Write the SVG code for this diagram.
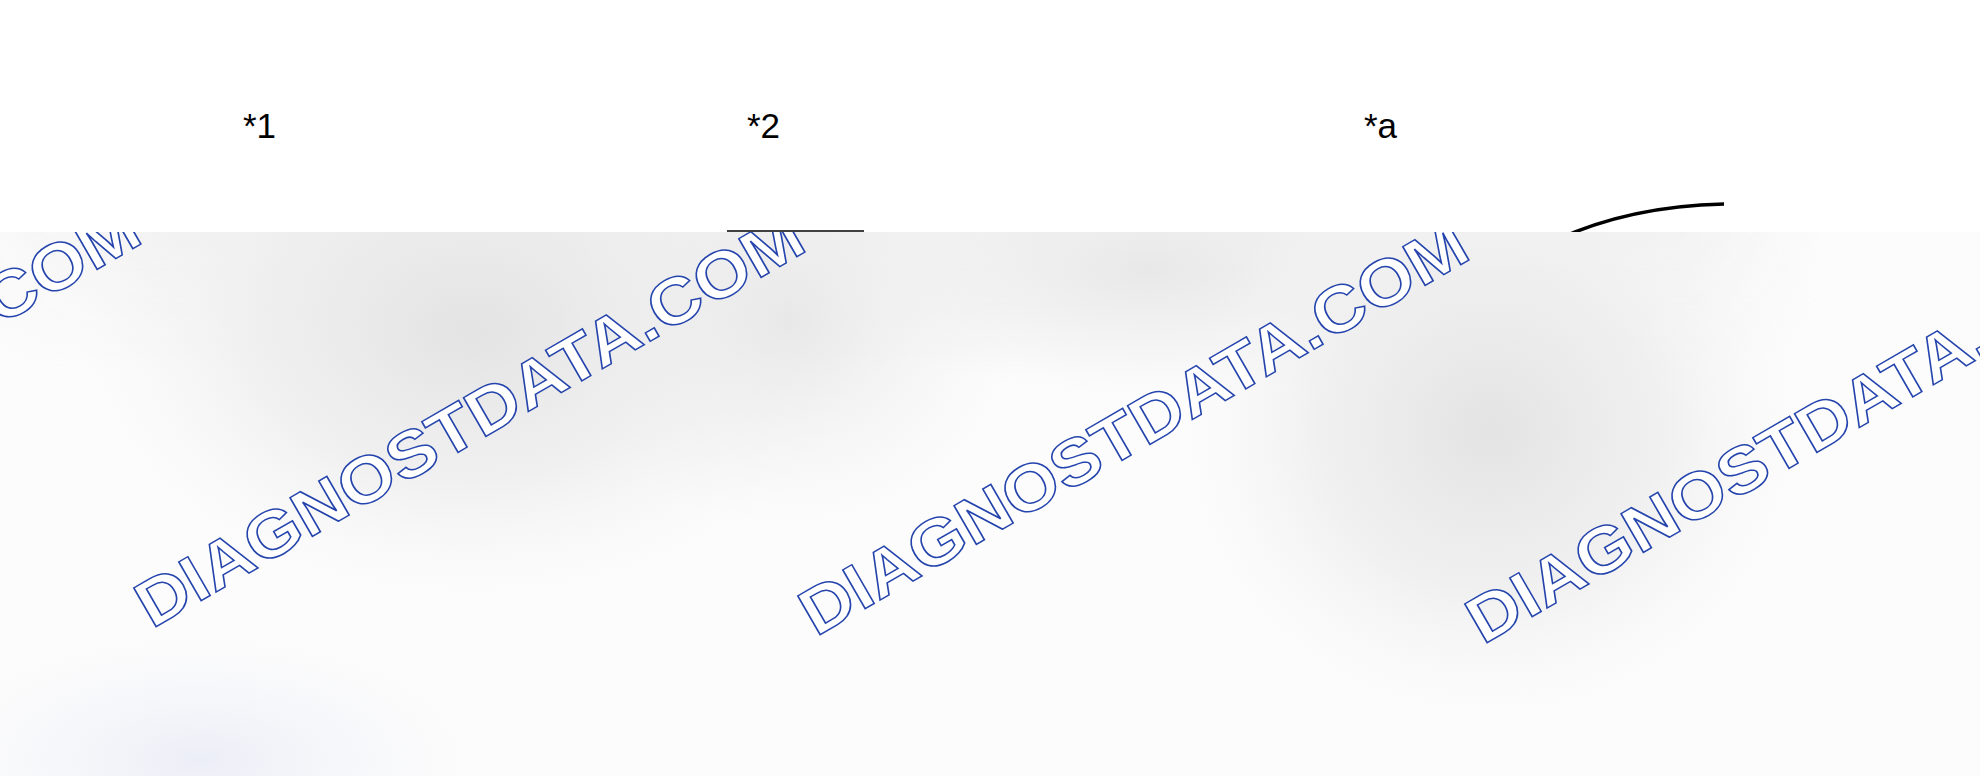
<svg xmlns="http://www.w3.org/2000/svg" width="1980" height="776" viewBox="0 0 1980 776">
<style>
.lbl{font-family:"Liberation Sans",Arial,sans-serif;font-size:35px;fill:#000}
.wm{font-family:"Liberation Sans",Arial,sans-serif;font-size:65px;font-weight:bold;fill:#fff;stroke:#2545ad;stroke-width:1.5}
.conn{fill:none;stroke:#000}
</style>
<defs>
<radialGradient id="g1"><stop offset="0" stop-color="#e3e3e3"/><stop offset="0.55" stop-color="#ededed" stop-opacity="0.8"/><stop offset="1" stop-color="#f4f4f4" stop-opacity="0"/></radialGradient>
<radialGradient id="g2"><stop offset="0" stop-color="#e8e8e8"/><stop offset="1" stop-color="#f0f0f0" stop-opacity="0"/></radialGradient>
<radialGradient id="g3"><stop offset="0" stop-color="#eceef7"/><stop offset="1" stop-color="#f4f5fa" stop-opacity="0"/></radialGradient>
<linearGradient id="top" x1="0" y1="0" x2="0" y2="1"><stop offset="0" stop-color="#f2f2f2"/><stop offset="1" stop-color="#f2f2f2" stop-opacity="0"/></linearGradient>
<linearGradient id="hfade" x1="0" y1="0" x2="1" y2="0"><stop offset="0" stop-color="#fff" stop-opacity="0.3"/><stop offset="0.08" stop-color="#fff"/><stop offset="0.85" stop-color="#fff"/><stop offset="0.92" stop-color="#fff" stop-opacity="0"/></linearGradient>
<mask id="topmask"><rect x="0" y="232" width="1980" height="140" fill="url(#hfade)"/></mask>
<clipPath id="lower"><rect x="0" y="232" width="1980" height="544"/></clipPath>
</defs>
<rect width="1980" height="776" fill="#fff"/>
<g id="connectors">
<line class="conn" x1="727" y1="231" x2="864" y2="231" stroke-width="1.6"/>
<path class="conn" d="M1556,240 Q1630,206 1724,204" stroke-width="3.5"/>
</g>
<g id="label-1"><text class="lbl" x="243" y="138">*1</text></g>
<g id="label-2"><text class="lbl" x="747" y="138">*2</text></g>
<g id="label-a"><text class="lbl" x="1364" y="138">*a</text></g>
<g id="background-panel" clip-path="url(#lower)">
<rect x="0" y="232" width="1980" height="544" fill="#fcfcfc"/>
<rect x="0" y="232" width="1980" height="140" fill="url(#top)" mask="url(#topmask)"/>
<ellipse cx="470" cy="330" rx="390" ry="270" fill="url(#g1)"/>
<ellipse cx="790" cy="320" rx="230" ry="210" fill="url(#g2)"/>
<ellipse cx="1150" cy="270" rx="320" ry="130" fill="url(#g2)"/>
<ellipse cx="1490" cy="430" rx="310" ry="290" fill="url(#g1)"/>
<ellipse cx="200" cy="760" rx="280" ry="130" fill="url(#g3)"/>
<g id="watermarks">
<text class="wm" transform="translate(-512,621) rotate(-30) scale(1.11,1)">DIAGNOSTDATA.COM</text>
<text class="wm" transform="translate(152,629) rotate(-30) scale(1.11,1)">DIAGNOSTDATA.COM</text>
<text class="wm" transform="translate(816,637) rotate(-30) scale(1.11,1)">DIAGNOSTDATA.COM</text>
<text class="wm" transform="translate(1483,645) rotate(-30) scale(1.11,1)">DIAGNOSTDATA.COM</text>
</g>
</g>
</svg>
